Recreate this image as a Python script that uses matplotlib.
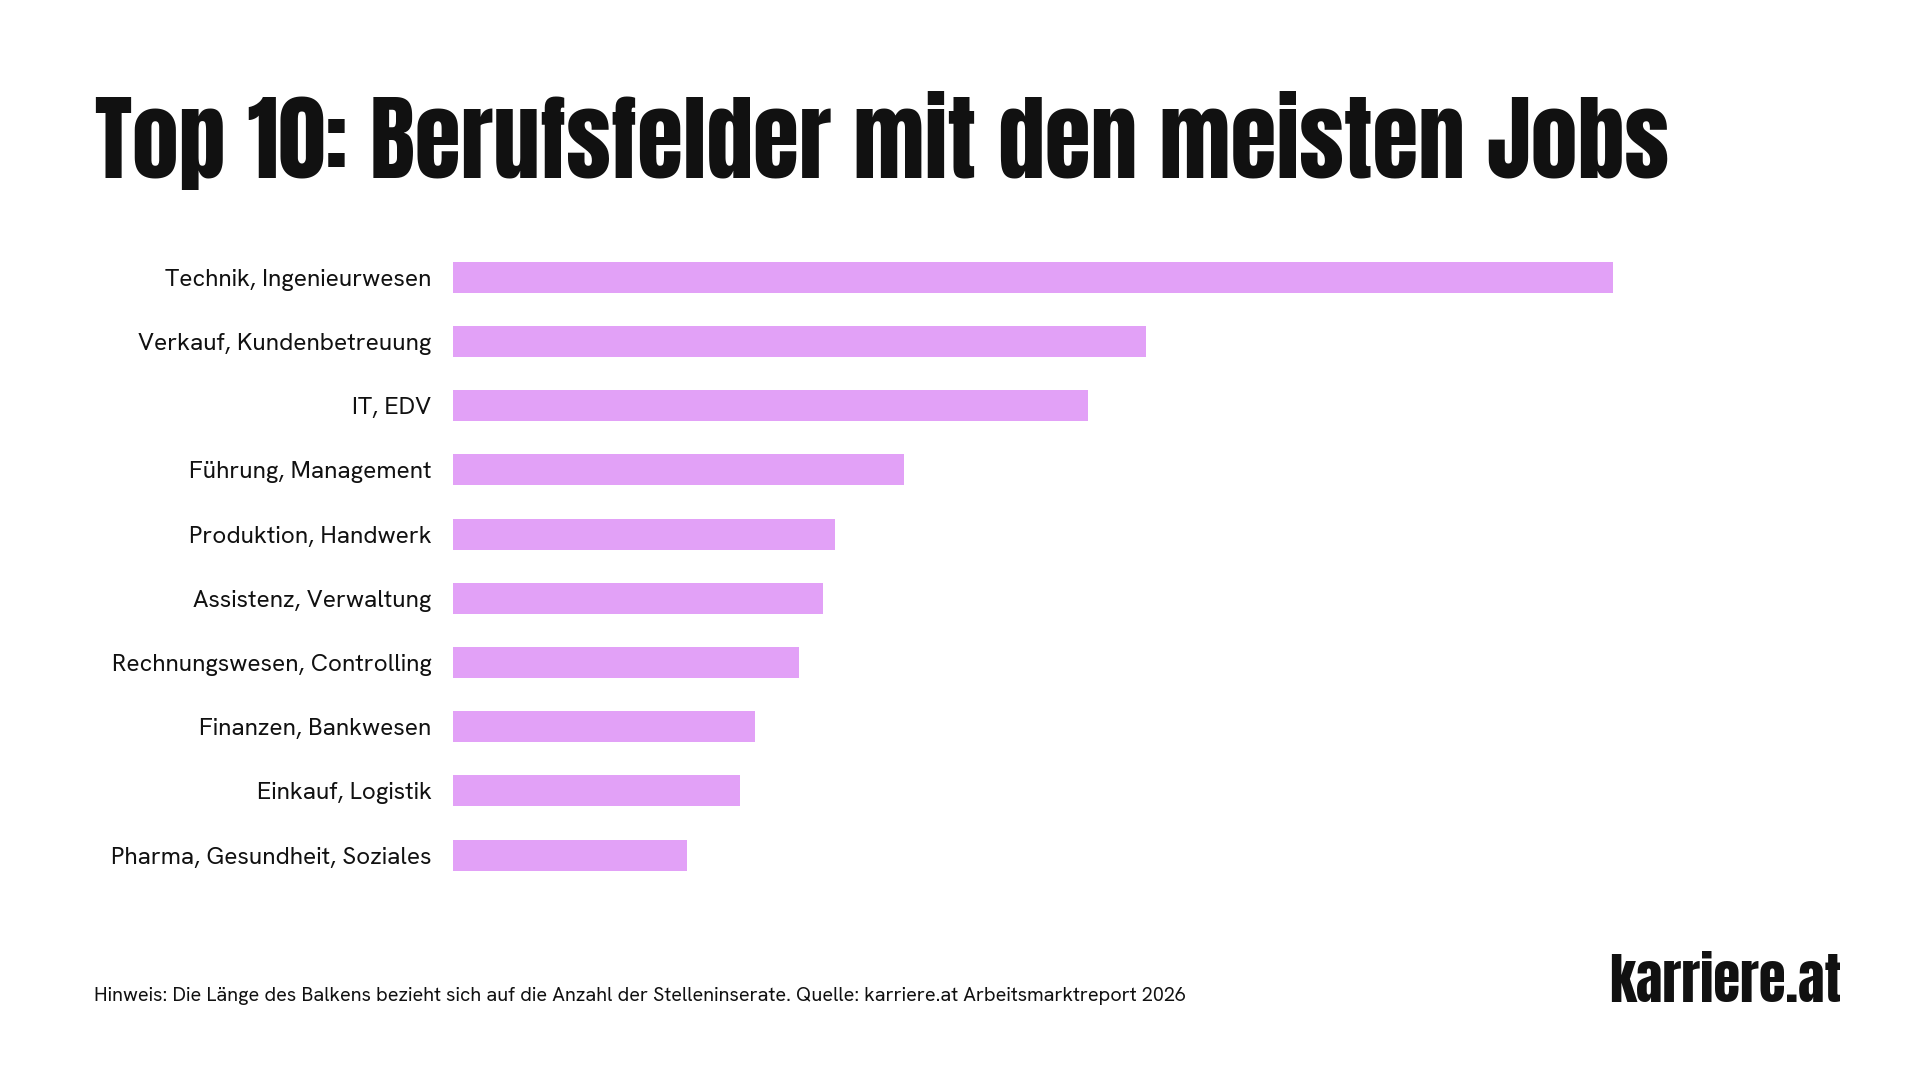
import matplotlib
matplotlib.use("Agg")
import matplotlib.pyplot as plt

# Data (relative bar length, Technik = 100)
categories = [
    "Technik, Ingenieurwesen",
    "Verkauf, Kundenbetreuung",
    "IT, EDV",
    "Führung, Management",
    "Produktion, Handwerk",
    "Assistenz, Verwaltung",
    "Rechnungswesen, Controlling",
    "Finanzen, Bankwesen",
    "Einkauf, Logistik",
    "Pharma, Gesundheit, Soziales",
]
values = [100, 59.7, 54.7, 38.9, 32.9, 31.9, 29.8, 26.0, 24.7, 20.2]

title = "Top 10: Berufsfelder mit den meisten Jobs"
footnote = ("Hinweis: Die Länge des Balkens bezieht sich auf die Anzahl der "
            "Stelleninserate. Quelle: karriere.at Arbeitsmarktreport 2026")
logo = "karriere.at"

W, H = 1916, 1077
BAR_COLOR = "#E2A1F7"
INK = "#111111"
LABEL_FONT = ["Hanken Grotesk", "DejaVu Sans"]
TITLE_FONT = ["Anton", "DejaVu Sans"]

fig = plt.figure(figsize=(W / 100, H / 100), dpi=100)
fig.patch.set_facecolor("white")

left, right = 453 / W, 1613 / W
top_px, bot_px = 245.4, 887.1
ax = fig.add_axes([left, 1 - bot_px / H, right - left, (bot_px - top_px) / H])

ypos = list(range(len(categories)))
ax.barh(ypos, values, height=0.483, color=BAR_COLOR, edgecolor="none")
ax.set_xlim(0, 100)
ax.set_ylim(len(categories) - 0.5, -0.5)
ax.set_yticks(ypos)
ax.set_yticklabels(categories, family=LABEL_FONT, fontsize=17.5, color=INK)
ax.tick_params(axis="y", length=0, pad=15.5)
ax.set_xticks([])
for s in ax.spines.values():
    s.set_visible(False)
ax.set_facecolor("none")

fig.text(95 / W, 1 - 178.5 / H, title, family=TITLE_FONT, fontsize=67.6,
         color=INK, ha="left", va="baseline")
fig.text(94 / W, 1 - 1001 / H, footnote, family=LABEL_FONT, fontsize=14.35,
         color=INK, ha="left", va="baseline")
fig.text(1841 / W, 1 - 1002 / H, logo, family=TITLE_FONT, fontsize=39.3,
         color=INK, ha="right", va="baseline")

fig.savefig("out.png", dpi=100, facecolor="white")
